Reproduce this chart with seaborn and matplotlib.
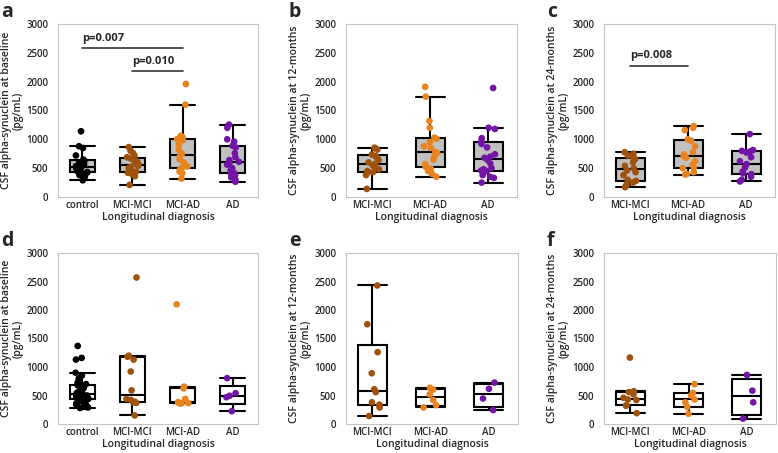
import numpy as np
import pandas as pd
import seaborn as sns
import matplotlib.pyplot as plt

# groups and colours
groups4 = ['control', 'MCI-MCI', 'MCI-AD', 'AD']
groups3 = ['MCI-MCI', 'MCI-AD', 'AD']
colors = {'control': '#000000', 'MCI-MCI': '#9E520C',
          'MCI-AD': '#E8841F', 'AD': '#7214A6'}

# a: baseline (top row)
a_control = [290, 350, 380, 410, 425, 432, 450, 480, 500, 515, 535, 550, 570, 600, 630, 650, 720, 850, 880, 1140]
a_mcimci = [210, 360, 400, 420, 430, 440, 480, 500, 520, 540, 560, 580, 600, 620, 665, 690, 720, 760, 800, 865]
a_mciad = [320, 410, 440, 470, 505, 530, 600, 650, 700, 756, 820, 900, 985, 1005, 1040, 1060, 1600, 1960]
a_ad = [265, 300, 340, 380, 410, 425, 460, 500, 560, 590, 610, 640, 690, 760, 860, 890, 960, 1000, 1200, 1255]

# b: 12 months
b_mcimci = [140, 380, 400, 430, 450, 480, 520, 550, 575, 600, 640, 680, 710, 735, 820, 840, 855]
b_mciad = [350, 400, 450, 490, 525, 570, 650, 700, 760, 780, 850, 880, 950, 1010, 1030, 1200, 1320, 1740, 1910]
b_ad = [250, 330, 350, 380, 450, 460, 480, 500, 580, 640, 680, 700, 740, 860, 920, 960, 1020, 1180, 1200, 1890]

# c: 24 months
c_mcimci = [170, 210, 250, 280, 300, 380, 430, 460, 500, 540, 600, 660, 680, 720, 750, 775]
c_mciad = [390, 400, 430, 500, 515, 560, 620, 680, 710, 740, 780, 880, 975, 1000, 1160, 1200, 1230]
c_ad = [270, 300, 350, 395, 410, 440, 510, 570, 620, 690, 770, 790, 800, 815, 1090]

# d: baseline (bottom row)
d_control = [280, 290, 300, 320, 340, 360, 380, 400, 410, 430, 440, 450, 460, 470, 480, 490, 500, 505, 510, 515,
             525, 540, 560, 580, 600, 620, 640, 660, 670, 680, 690, 700, 720, 750, 800, 850, 900, 1130, 1160, 1370]
d_mcimci = [150, 370, 380, 390, 420, 440, 590, 920, 1130, 1180, 1200, 2570]
d_mciad = [360, 362, 366, 372, 384, 440, 625, 655, 2100]
d_ad = [225, 470, 495, 540, 805]

# e: 12 months
e_mcimci = [140, 290, 340, 380, 560, 610, 890, 1260, 1750, 2430]
e_mciad = [290, 330, 420, 520, 605, 635]
e_ad = [245, 447, 617, 727]

# f: 24 months
f_mcimci = [190, 320, 330, 420, 430, 460, 520, 560, 575, 1165]
f_mciad = [180, 300, 380, 430, 500, 545, 700]
f_ad = [95, 380, 585, 860]

yticks = [0, 500, 1000, 1500, 2000, 2500, 3000]
ylabels = {'base': 'CSF alpha-synuclein at baseline\n(pg/mL)',
           '12': 'CSF alpha-synuclein at 12-months\n(pg/mL)',
           '24': 'CSF alpha-synuclein at 24-months\n(pg/mL)'}

sns.set_style('white')
plt.rcParams['font.family'] = ['Open Sans', 'DejaVu Sans']
np.random.seed(3)

W, H = 778, 453
fig = plt.figure(figsize=(W / 100, H / 100), dpi=100)


def px_axes(x0, y0, x1, y1):
    return fig.add_axes([x0 / W, 1 - y1 / H, (x1 - x0) / W, (y1 - y0) / H])


def box_stats(v):
    # quartiles as (n+1)p, whiskers at 1.5 IQR
    v = np.sort(np.asarray(v, float))
    q1, med, q3 = np.percentile(v, [25, 50, 75], method='weibull')
    iqr = q3 - q1
    lo = v[v >= q1 - 1.5 * iqr].min()
    hi = v[v <= q3 + 1.5 * iqr].max()
    return dict(q1=q1, med=med, q3=q3, whislo=lo, whishi=hi, fliers=[])


panels = [
    ('a', (58, 24, 258, 197), groups4, [a_control, a_mcimci, a_mciad, a_ad], 'base', '#c0c0c0',
     [(0, 2, 2580, 'p=0.007'), (1, 2, 2190, 'p=0.010')]),
    ('b', (346, 24, 517, 197), groups3, [b_mcimci, b_mciad, b_ad], '12', '#c0c0c0', []),
    ('c', (604, 24, 775, 197), groups3, [c_mcimci, c_mciad, c_ad], '24', '#c0c0c0',
     [(0, 1, 2280, 'p=0.008')]),
    ('d', (58, 253, 258, 424), groups4, [d_control, d_mcimci, d_mciad, d_ad], 'base', 'white', []),
    ('e', (346, 253, 518, 424), groups3, [e_mcimci, e_mciad, e_ad], '12', 'white', []),
    ('f', (604, 253, 776, 424), groups3, [f_mcimci, f_mciad, f_ad], '24', 'white', []),
]

for letter, box, groups, values, ylab, fill, sigs in panels:
    ax = px_axes(*box)
    df = pd.DataFrame({'group': np.repeat(groups, [len(v) for v in values]),
                       'value': np.concatenate(values)})
    lw = 1.5
    ax.bxp([box_stats(v) for v in values], positions=range(len(groups)),
           widths=0.5, capwidths=0.5, patch_artist=True, showfliers=False,
           manage_ticks=False, zorder=1,
           boxprops=dict(facecolor=fill, edgecolor='black', linewidth=lw),
           medianprops=dict(color='black', linewidth=lw),
           whiskerprops=dict(color='black', linewidth=lw),
           capprops=dict(color='black', linewidth=lw))
    sns.stripplot(data=df, x='group', y='value', hue='group', order=groups,
                  hue_order=groups, palette=colors, jitter=0.13, size=4.8,
                  linewidth=0, legend=False, ax=ax, zorder=3)

    for x0, x1, y, lab in sigs:
        ax.plot([x0, x1], [y, y], color='#333333', lw=1.2)
        ax.text(x0, y + 70, lab, ha='left', va='bottom', fontsize=8, fontweight='bold')

    if len(groups) == 4:
        ax.set_xlim(-0.48, 3.5)
    else:
        ax.set_xlim(-0.45, 2.5)
    ax.set_ylim(0, 3000)
    ax.set_xticks(range(len(groups)))
    ax.set_xticklabels(groups, fontsize=7, fontweight='semibold')
    ax.set_yticks(yticks)
    ax.set_yticklabels([str(t) for t in yticks], fontsize=7, fontweight='semibold')
    ax.tick_params(length=0, pad=2)
    ax.tick_params(axis='y', pad=7)
    ax.set_xlabel('Longitudinal diagnosis', fontsize=7.5, labelpad=1, fontweight='semibold')
    ax.set_ylabel(ylabels[ylab], fontsize=7.5, labelpad=2, linespacing=1.1, fontweight='semibold')
    for s in ax.spines.values():
        s.set_color('#c4c4c4')
        s.set_linewidth(0.8)

    fig.text((box[0] - 57) / W, 1 - (box[1] - 22) / H, letter, fontsize=14,
             fontweight='bold', va='top', ha='left')

fig.savefig('out.png', dpi=100)
